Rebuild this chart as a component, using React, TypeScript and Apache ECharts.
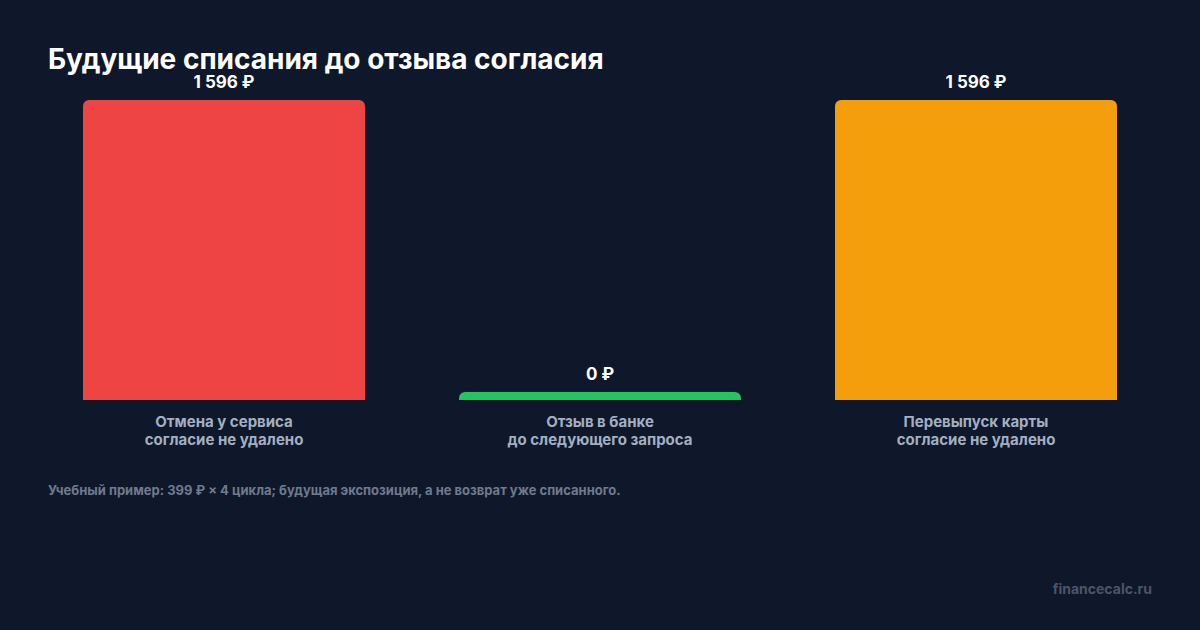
import React, { useEffect, useRef } from 'react';
import * as echarts from 'echarts';
import type { EChartsOption } from 'echarts';

const categories = [
  'Отмена у сервиса\nсогласие не удалено',
  'Отзыв в банке\nдо следующего запроса',
  'Перевыпуск карты\nсогласие не удалено',
];
const amounts = [1596, 0, 1596];
const barColors = ['#ef4444', '#22c55e', '#f59e0b'];

const fmt = (v: number) =>
  String(v).replace(/\B(?=(\d{3})+(?!\d))/g, '\u00A0') + ' ₽';

const App: React.FC = () => {
  const chartRef = useRef<HTMLDivElement>(null);

  useEffect(() => {
    if (!chartRef.current) return;
    document.body.style.margin = '0';
    const chart = echarts.init(chartRef.current, undefined, { renderer: 'svg' });

    const option: EChartsOption = {
      animation: false,
      backgroundColor: '#0f172a',
      textStyle: { fontFamily: 'Inter' },
      title: {
        text: 'Будущие списания до отзыва согласия',
        left: 43,
        top: 40,
        textStyle: { color: '#ffffff', fontSize: 28, fontWeight: 'bold', fontFamily: 'Inter' },
      },
      grid: { left: 36, right: 36, top: 100, bottom: 230 },
      xAxis: {
        type: 'category',
        data: categories,
        axisLine: { show: false },
        axisTick: { show: false },
        axisLabel: {
          color: '#a3afc2',
          fontSize: 15,
          fontWeight: 'bold',
          lineHeight: 18,
          margin: 12,
          fontFamily: 'Inter',
        },
      },
      yAxis: {
        type: 'value',
        min: 0,
        max: 1596,
        show: false,
        splitLine: { show: false },
      },
      series: [
        {
          type: 'bar',
          barWidth: '75%',
          barMinHeight: 8,
          data: amounts.map((v, i) => ({
            value: v,
            itemStyle: { color: barColors[i], borderRadius: [6, 6, 0, 0] },
          })),
          label: {
            show: true,
            position: 'top',
            distance: 10,
            color: '#ffffff',
            fontSize: 17,
            fontWeight: 'bold',
            fontFamily: 'Inter',
            formatter: (p: any) => fmt(p.value),
          },
        },
      ],
      graphic: [
        {
          type: 'text',
          left: 48,
          top: 483,
          style: {
            text: 'Учебный пример: 399 ₽ × 4 цикла; будущая экспозиция, а не возврат уже списанного.',
            fill: '#6f7a8e',
            font: 'bold 13px Inter',
          },
        },
        {
          type: 'text',
          right: 48,
          top: 581,
          style: {
            text: 'financecalc.ru',
            fill: '#4b5568',
            font: 'bold 14px Inter',
          },
        },
      ],
    };

    chart.setOption(option);
    const handleResize = () => chart.resize();
    window.addEventListener('resize', handleResize);
    return () => {
      window.removeEventListener('resize', handleResize);
      chart.dispose();
    };
  }, []);

  return <div ref={chartRef} style={{ width: 1200, height: 630 }} />;
};

export default App;
